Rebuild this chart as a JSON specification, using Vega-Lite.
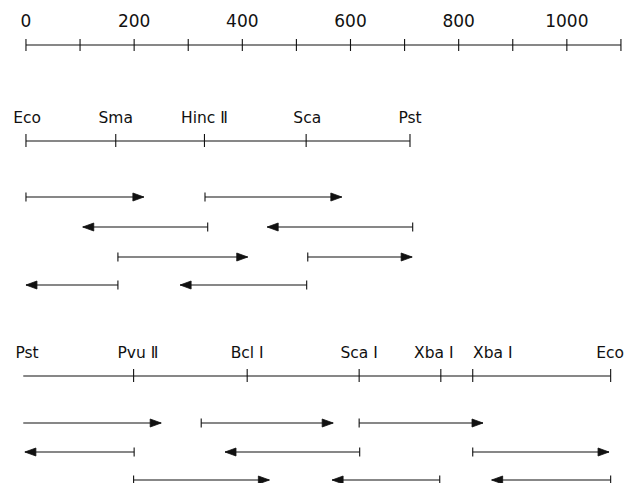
{
  "$schema": "https://vega.github.io/schema/vega-lite/v6.json",
  "width": 635,
  "height": 483,
  "autosize": "none",
  "padding": 0,
  "background": "white",
  "config": {"view": {"stroke": null}},
  "datasets": {
    "lines": [
      {"track": 45, "start": 0, "end": 1100},
      {"track": 141, "start": 0, "end": 710},
      {"track": 376, "start": -5, "end": 1081}
    ],
    "sites": [
      {"track": 45, "pos": 0, "kind": "axis"},
      {"track": 45, "pos": 100, "kind": "axis"},
      {"track": 45, "pos": 200, "kind": "axis"},
      {"track": 45, "pos": 300, "kind": "axis"},
      {"track": 45, "pos": 400, "kind": "axis"},
      {"track": 45, "pos": 500, "kind": "axis"},
      {"track": 45, "pos": 600, "kind": "axis"},
      {"track": 45, "pos": 700, "kind": "axis"},
      {"track": 45, "pos": 800, "kind": "axis"},
      {"track": 45, "pos": 900, "kind": "axis"},
      {"track": 45, "pos": 1000, "kind": "axis"},
      {"track": 45, "pos": 1100, "kind": "axis"},
      {"track": 141, "pos": 0, "kind": "map"},
      {"track": 141, "pos": 166, "kind": "map"},
      {"track": 141, "pos": 330, "kind": "map"},
      {"track": 141, "pos": 518, "kind": "map"},
      {"track": 141, "pos": 710, "kind": "map"},
      {"track": 376, "pos": 199, "kind": "map"},
      {"track": 376, "pos": 409, "kind": "map"},
      {"track": 376, "pos": 616, "kind": "map"},
      {"track": 376, "pos": 767, "kind": "map"},
      {"track": 376, "pos": 826, "kind": "map"},
      {"track": 376, "pos": 1081, "kind": "map"}
    ],
    "labels": [
      {"track": 45, "pos": 0, "text": "0", "group": "scale"},
      {"track": 45, "pos": 200, "text": "200", "group": "scale"},
      {"track": 45, "pos": 400, "text": "400", "group": "scale"},
      {"track": 45, "pos": 600, "text": "600", "group": "scale"},
      {"track": 45, "pos": 800, "text": "800", "group": "scale"},
      {"track": 45, "pos": 1000, "text": "1000", "group": "scale"},
      {"track": 141, "pos": 2, "text": "Eco", "group": "site"},
      {"track": 141, "pos": 166, "text": "Sma", "group": "site"},
      {"track": 141, "pos": 330, "text": "Hinc Ⅱ", "group": "site"},
      {"track": 141, "pos": 520, "text": "Sca", "group": "site"},
      {"track": 141, "pos": 710, "text": "Pst", "group": "site"},
      {"track": 376, "pos": 2, "text": "Pst", "group": "site"},
      {"track": 376, "pos": 207, "text": "Pvu Ⅱ", "group": "site"},
      {"track": 376, "pos": 409, "text": "Bcl Ⅰ", "group": "site"},
      {"track": 376, "pos": 616, "text": "Sca Ⅰ", "group": "site"},
      {"track": 376, "pos": 754, "text": "Xba Ⅰ", "group": "site"},
      {"track": 376, "pos": 863, "text": "Xba Ⅰ", "group": "site"},
      {"track": 376, "pos": 1080, "text": "Eco", "group": "site"}
    ],
    "arrows": [
      {"track": 197, "tail": 0, "tip": 218, "dir": "right", "tick": true},
      {"track": 197, "tail": 331, "tip": 584, "dir": "right", "tick": true},
      {"track": 227, "tail": 336, "tip": 105, "dir": "left", "tick": true},
      {"track": 227, "tail": 715, "tip": 446, "dir": "left", "tick": true},
      {"track": 257, "tail": 170, "tip": 410, "dir": "right", "tick": true},
      {"track": 257, "tail": 521, "tip": 714, "dir": "right", "tick": true},
      {"track": 285, "tail": 170, "tip": 0, "dir": "left", "tick": true},
      {"track": 285, "tail": 519, "tip": 285, "dir": "left", "tick": true},
      {"track": 423, "tail": -5, "tip": 250, "dir": "right", "tick": false},
      {"track": 423, "tail": 324, "tip": 568, "dir": "right", "tick": true},
      {"track": 423, "tail": 616, "tip": 845, "dir": "right", "tick": true},
      {"track": 452, "tail": 200, "tip": -2, "dir": "left", "tick": true},
      {"track": 452, "tail": 617, "tip": 368, "dir": "left", "tick": true},
      {"track": 452, "tail": 826, "tip": 1078, "dir": "right", "tick": true},
      {"track": 480, "tail": 199, "tip": 450, "dir": "right", "tick": true},
      {"track": 480, "tail": 765, "tip": 566, "dir": "left", "tick": true},
      {"track": 480, "tail": 1081, "tip": 861, "dir": "left", "tick": true}
    ]
  },
  "layer": [
    {
      "data": {"name": "lines"},
      "mark": {"type": "rule", "color": "#111", "strokeWidth": 1.1},
      "encoding": {
        "x": {"field": "start", "type": "quantitative", "scale": {"domain": [-48, 1126], "nice": false, "zero": false}, "axis": null},
        "x2": {"field": "end"},
        "y": {"field": "track", "type": "quantitative", "scale": {"domain": [0, 483], "reverse": true, "nice": false, "zero": false}, "axis": null}
      }
    },
    {
      "data": {"name": "sites"},
      "transform": [{"filter": "datum.kind == 'axis'"}],
      "mark": {"type": "point", "filled": false, "color": "#111", "strokeWidth": 1.1, "size": 4, "opacity": 1, "shape": "M0,-6L0,6"},
      "encoding": {
        "x": {"field": "pos", "type": "quantitative"},
        "y": {"field": "track", "type": "quantitative"}
      }
    },
    {
      "data": {"name": "sites"},
      "transform": [{"filter": "datum.kind == 'map'"}],
      "mark": {"type": "point", "filled": false, "color": "#111", "strokeWidth": 1.1, "size": 4, "opacity": 1, "shape": "M0,-7L0,6"},
      "encoding": {
        "x": {"field": "pos", "type": "quantitative"},
        "y": {"field": "track", "type": "quantitative"}
      }
    },
    {
      "data": {"name": "arrows"},
      "mark": {"type": "rule", "color": "#111", "strokeWidth": 1.2},
      "encoding": {
        "x": {"field": "tail", "type": "quantitative"},
        "x2": {"field": "tip"},
        "y": {"field": "track", "type": "quantitative"}
      }
    },
    {
      "data": {"name": "arrows"},
      "transform": [{"filter": "datum.tick"}],
      "mark": {"type": "point", "filled": false, "color": "#111", "strokeWidth": 1.1, "size": 4, "opacity": 1, "shape": "M0,-4.5L0,4.5"},
      "encoding": {
        "x": {"field": "tail", "type": "quantitative"},
        "y": {"field": "track", "type": "quantitative"}
      }
    },
    {
      "data": {"name": "arrows"},
      "transform": [{"filter": "datum.dir == 'right'"}],
      "mark": {"type": "point", "filled": true, "color": "#111", "stroke": "#111", "strokeWidth": 0.8, "size": 4, "opacity": 1, "shape": "M0,0L-11,-4L-11,4Z"},
      "encoding": {
        "x": {"field": "tip", "type": "quantitative"},
        "y": {"field": "track", "type": "quantitative"}
      }
    },
    {
      "data": {"name": "arrows"},
      "transform": [{"filter": "datum.dir == 'left'"}],
      "mark": {"type": "point", "filled": true, "color": "#111", "stroke": "#111", "strokeWidth": 0.8, "size": 4, "opacity": 1, "shape": "M0,0L11,-4L11,4Z"},
      "encoding": {
        "x": {"field": "tip", "type": "quantitative"},
        "y": {"field": "track", "type": "quantitative"}
      }
    },
    {
      "data": {"name": "labels"},
      "transform": [{"filter": "datum.group == 'scale'"}],
      "mark": {"type": "text", "font": "DejaVu Sans", "fontSize": 17, "color": "#111", "align": "center", "baseline": "middle", "dy": -23},
      "encoding": {
        "x": {"field": "pos", "type": "quantitative"},
        "y": {"field": "track", "type": "quantitative"},
        "text": {"field": "text", "type": "nominal"}
      }
    },
    {
      "data": {"name": "labels"},
      "transform": [{"filter": "datum.group == 'site'"}],
      "mark": {"type": "text", "font": "DejaVu Sans", "fontSize": 15.5, "color": "#111", "align": "center", "baseline": "middle", "dy": -23},
      "encoding": {
        "x": {"field": "pos", "type": "quantitative"},
        "y": {"field": "track", "type": "quantitative"},
        "text": {"field": "text", "type": "nominal"}
      }
    }
  ]
}
